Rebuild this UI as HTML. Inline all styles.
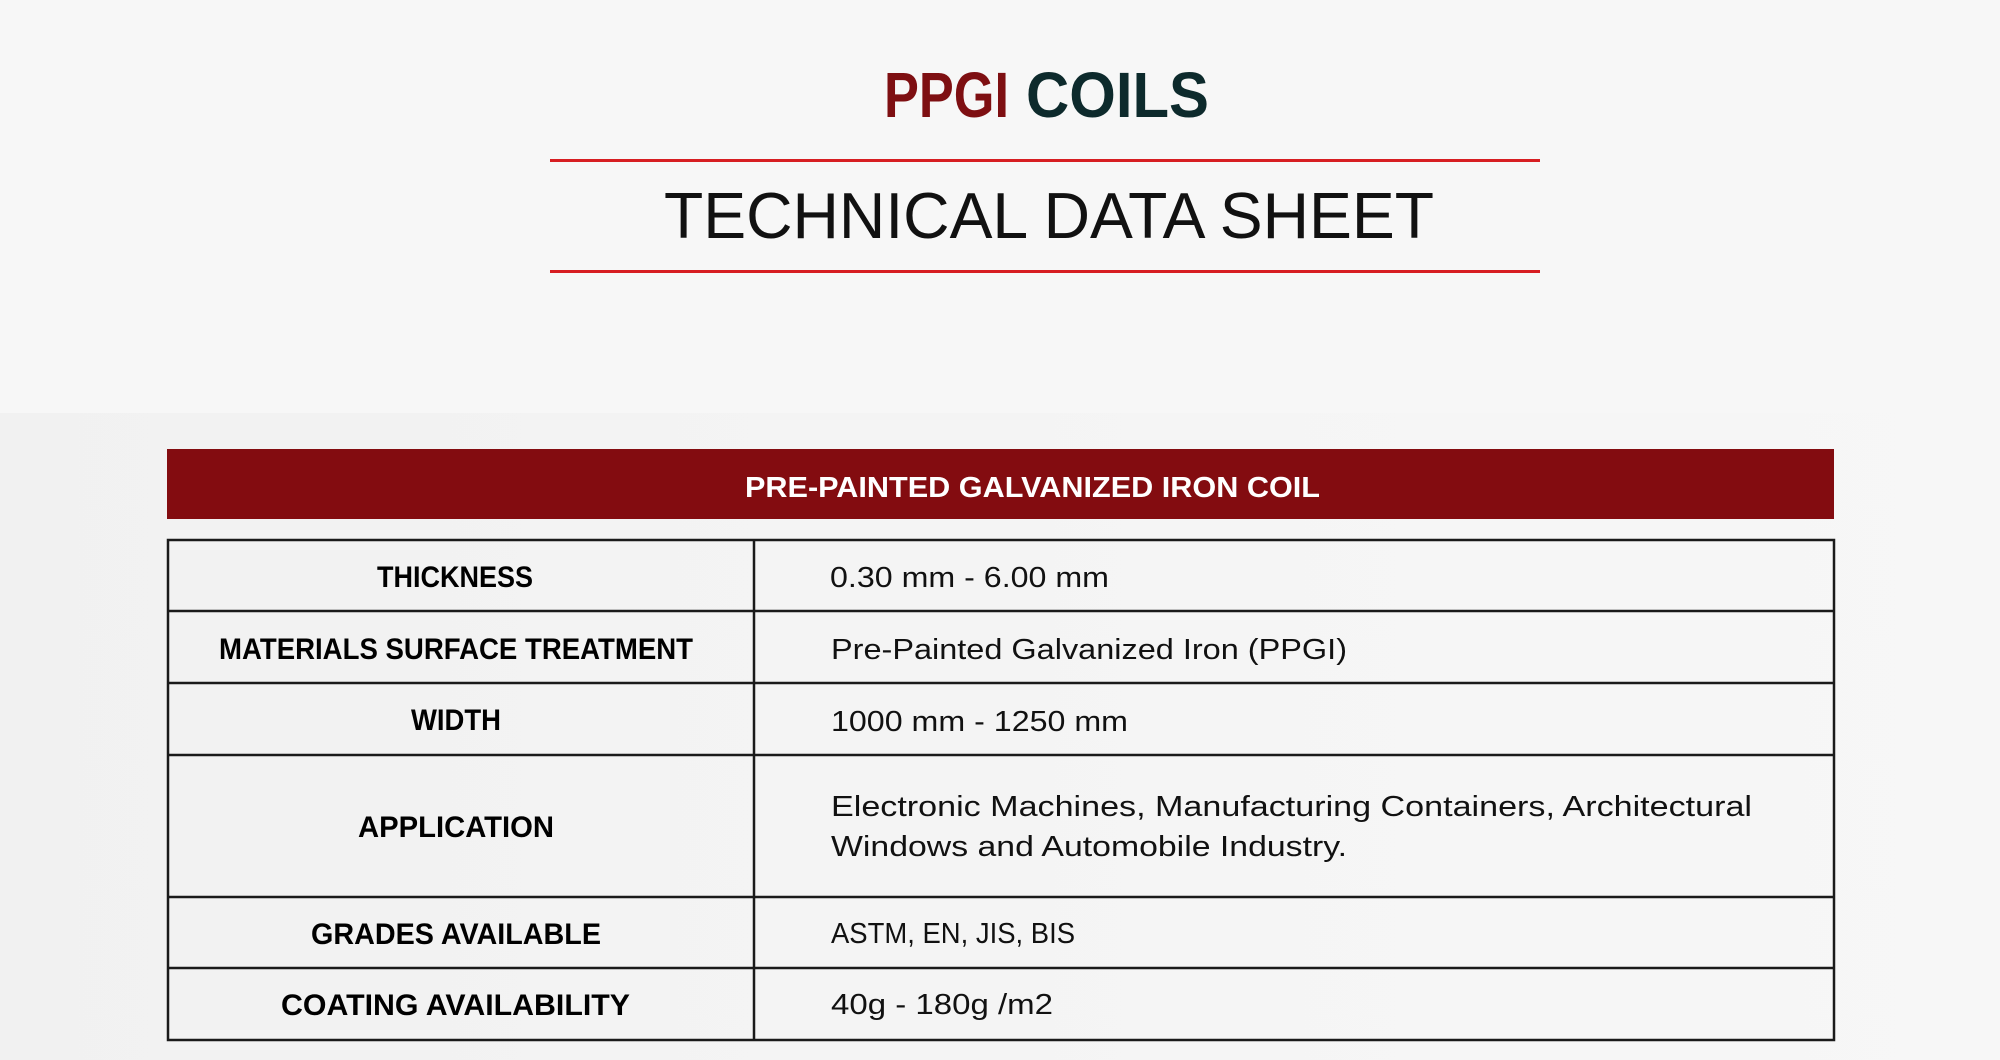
<!DOCTYPE html>
<html>
<head>
<meta charset="utf-8">
<style>
  html, body { margin: 0; padding: 0; background: #f7f7f7; }
  svg { display: block; }
  text { font-family: "Liberation Sans", Arial, sans-serif; }
</style>
</head>
<body>
<svg width="2000" height="1060" viewBox="0 0 2000 1060" xmlns="http://www.w3.org/2000/svg">
  <defs>
    <linearGradient id="lowbg" x1="0" y1="0" x2="1" y2="0">
      <stop offset="0" stop-color="#f1f1f1"/>
      <stop offset="0.6" stop-color="#f5f5f5"/>
      <stop offset="1" stop-color="#f7f7f7"/>
    </linearGradient>
  </defs>
  <rect x="0" y="0" width="2000" height="1060" fill="#f7f7f7"/>
  <rect x="0" y="413" width="2000" height="647" fill="url(#lowbg)"/>

  <!-- Title -->
  <text x="884" y="117" font-size="64" font-weight="bold" fill="#7e0f12" textLength="125" lengthAdjust="spacingAndGlyphs">PPGI</text>
  <text x="1026" y="117" font-size="64" font-weight="bold" fill="#0d2a2c" textLength="183" lengthAdjust="spacingAndGlyphs">COILS</text>

  <!-- red rules -->
  <rect x="550" y="159" width="990" height="3" fill="#d71e22"/>
  <rect x="550" y="270" width="990" height="3" fill="#d71e22"/>

  <text x="664" y="238" font-size="65" fill="#111111" textLength="770" lengthAdjust="spacingAndGlyphs">TECHNICAL DATA SHEET</text>

  <!-- Header bar -->
  <rect x="167" y="449" width="1667" height="70" fill="#830c10"/>
  <text x="745" y="497" font-size="29" font-weight="bold" fill="#ffffff" textLength="575" lengthAdjust="spacingAndGlyphs">PRE-PAINTED GALVANIZED IRON COIL</text>

  <!-- Table -->
  <g stroke="#1a1a1a" stroke-width="2.5" fill="none">
    <rect x="168" y="540" width="1666" height="500"/>
    <line x1="168" y1="611" x2="1834" y2="611"/>
    <line x1="168" y1="683" x2="1834" y2="683"/>
    <line x1="168" y1="755" x2="1834" y2="755"/>
    <line x1="168" y1="897" x2="1834" y2="897"/>
    <line x1="168" y1="968" x2="1834" y2="968"/>
    <line x1="754" y1="540" x2="754" y2="1040"/>
  </g>

  <!-- Labels -->
  <g font-size="30" font-weight="bold" fill="#000000">
    <text x="377" y="587" textLength="156" lengthAdjust="spacingAndGlyphs">THICKNESS</text>
    <text x="219" y="659" textLength="474" lengthAdjust="spacingAndGlyphs">MATERIALS SURFACE TREATMENT</text>
    <text x="411" y="730" textLength="90" lengthAdjust="spacingAndGlyphs">WIDTH</text>
    <text x="358" y="837" textLength="196" lengthAdjust="spacingAndGlyphs">APPLICATION</text>
    <text x="311" y="944" textLength="290" lengthAdjust="spacingAndGlyphs">GRADES AVAILABLE</text>
    <text x="281" y="1015" textLength="349" lengthAdjust="spacingAndGlyphs">COATING AVAILABILITY</text>
  </g>

  <!-- Values -->
  <g font-size="29" fill="#111111">
    <text x="830" y="587" textLength="279" lengthAdjust="spacingAndGlyphs">0.30 mm - 6.00 mm</text>
    <text x="831" y="659" textLength="516" lengthAdjust="spacingAndGlyphs">Pre-Painted Galvanized Iron (PPGI)</text>
    <text x="831" y="731" textLength="297" lengthAdjust="spacingAndGlyphs">1000 mm - 1250 mm</text>
    <text x="831" y="816" textLength="921" lengthAdjust="spacingAndGlyphs">Electronic Machines, Manufacturing Containers, Architectural</text>
    <text x="831" y="856" textLength="516" lengthAdjust="spacingAndGlyphs">Windows and Automobile Industry.</text>
    <text x="831" y="943" textLength="244" lengthAdjust="spacingAndGlyphs">ASTM, EN, JIS, BIS</text>
    <text x="831" y="1014" textLength="222" lengthAdjust="spacingAndGlyphs">40g - 180g /m2</text>
  </g>
</svg>
</body>
</html>
